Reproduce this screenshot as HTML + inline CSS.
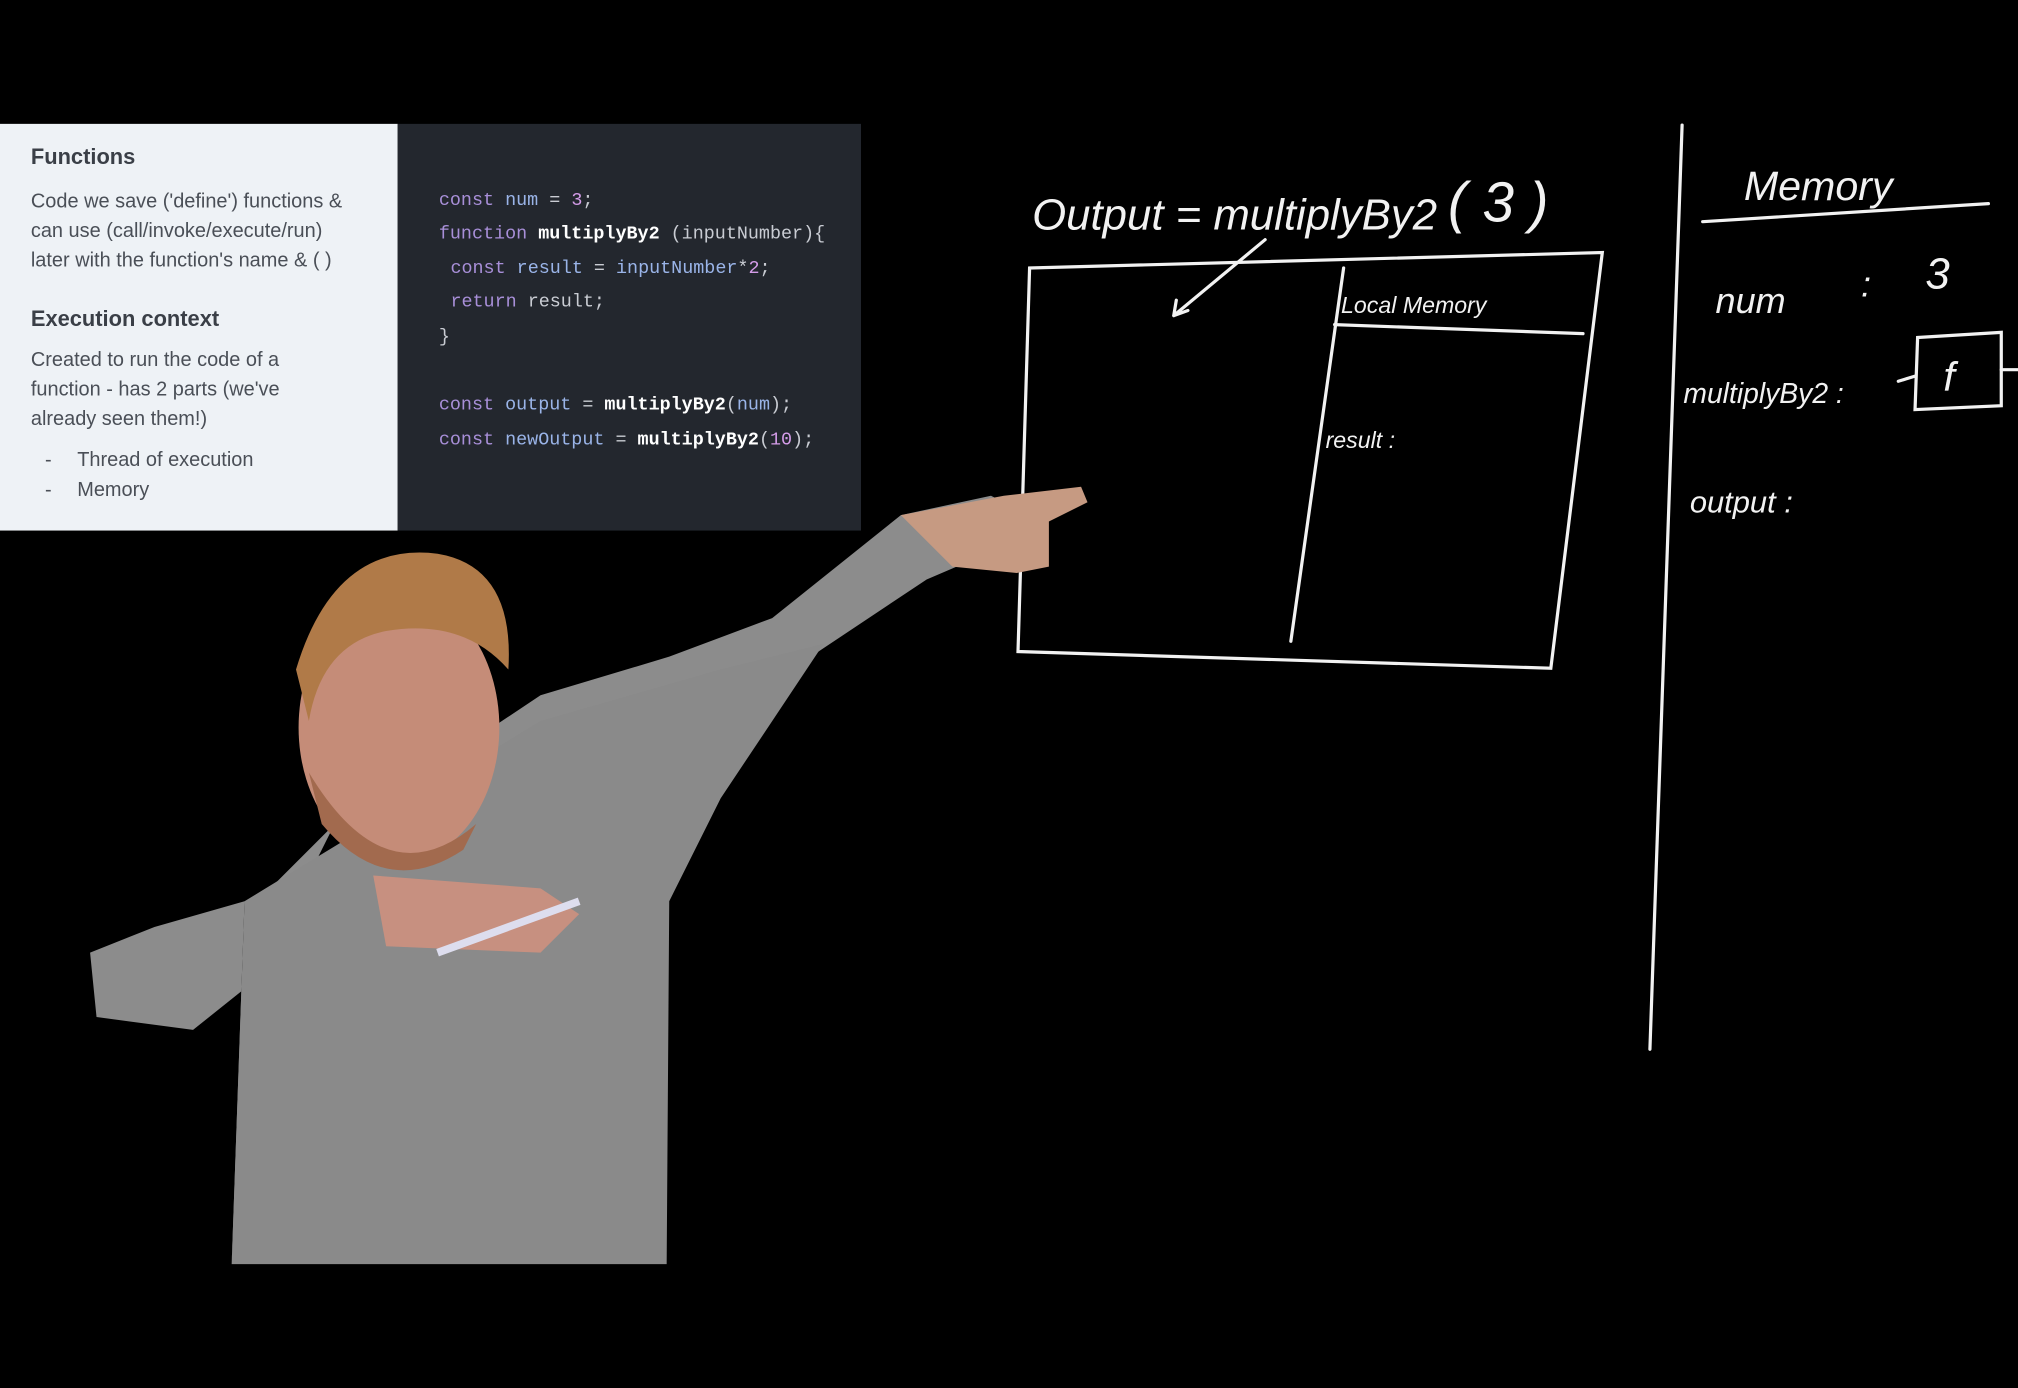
<!DOCTYPE html>
<html><head><meta charset="utf-8"><style>
html,body{margin:0;padding:0;background:#000;}
svg{display:block}
</style></head><body>
<svg width="2018" height="1388" viewBox="0 0 1568 1078" xmlns="http://www.w3.org/2000/svg">
<rect width="1568" height="1078" fill="#000"/>
<!-- slide -->
<rect x="0" y="96" width="309" height="316" fill="#eef2f6"/>
<rect x="309" y="96" width="360" height="316" fill="#23272e"/>
<g font-family="Liberation Sans, sans-serif" fill="#4a4f57">
<text x="24" y="127" font-size="17" font-weight="bold" fill="#3a3f47">Functions</text>
<text x="24" y="161" font-size="15.5">Code we save ('define') functions &amp;</text>
<text x="24" y="184" font-size="15.5">can use (call/invoke/execute/run)</text>
<text x="24" y="207" font-size="15.5">later with the function's name &amp; ( )</text>
<text x="24" y="253" font-size="17" font-weight="bold" fill="#3a3f47">Execution context</text>
<text x="24" y="284" font-size="15.5">Created to run the code of a</text>
<text x="24" y="307" font-size="15.5">function - has 2 parts (we've</text>
<text x="24" y="330" font-size="15.5">already seen them!)</text>
<text x="35" y="362" font-size="15.5">-</text><text x="60" y="362" font-size="15.5">Thread of execution</text>
<text x="35" y="385" font-size="15.5">-</text><text x="60" y="385" font-size="15.5">Memory</text>
</g>
<g font-family="Liberation Mono, monospace" font-size="14.3" fill="#c9ccd3">
<text x="341" y="159"><tspan fill="#a88fd8">const</tspan> <tspan fill="#9ab4e8">num</tspan> = <tspan fill="#d49ce8">3</tspan>;</text>
<text x="341" y="185"><tspan fill="#a88fd8">function</tspan> <tspan fill="#fff" font-weight="bold">multiplyBy2</tspan> (inputNumber){</text>
<text x="350" y="212"><tspan fill="#a88fd8">const</tspan> <tspan fill="#9ab4e8">result</tspan> = <tspan fill="#9ab4e8">inputNumber</tspan>*<tspan fill="#d49ce8">2</tspan>;</text>
<text x="350" y="238"><tspan fill="#a88fd8">return</tspan> result;</text>
<text x="341" y="265">}</text>
<text x="341" y="318"><tspan fill="#a88fd8">const</tspan> <tspan fill="#9ab4e8">output</tspan> = <tspan fill="#fff" font-weight="bold">multiplyBy2</tspan>(<tspan fill="#9ab4e8">num</tspan>);</text>
<text x="341" y="345"><tspan fill="#a88fd8">const</tspan> <tspan fill="#9ab4e8">newOutput</tspan> = <tspan fill="#fff" font-weight="bold">multiplyBy2</tspan>(<tspan fill="#d49ce8">10</tspan>);</text>
</g>
<!-- whiteboard lines -->
<g stroke="#f2f2f2" stroke-width="2.5" fill="none" stroke-linecap="round">
<path d="M800 208 L1245 196 L1205 519 L791 506 Z"/>
<path d="M1044 208 L1003 498"/>
<path d="M1037 252 L1230 259"/>
<path d="M983 186 L912 245 M912 245 L914 233 M912 245 L923 241"/>
<path d="M1307 97 L1282 815"/>
<path d="M1323 172 L1545 158"/>
<path d="M1490 262 L1555 258 L1555 315 L1488 318 Z"/>
<path d="M1475 296 L1488 292 M1555 287 L1568 287"/>
</g>
<g font-family="Liberation Sans, sans-serif" font-style="italic" fill="#f2f2f2">
<text x="802" y="178" font-size="34">Output  =  multiplyBy2</text>
<text x="1125" y="172" font-size="44">( 3 )</text>
<text x="1355" y="155" font-size="32">Memory</text>
<text x="1042" y="243" font-size="18">Local Memory</text>
<text x="1030" y="348" font-size="18">result   :</text>
<text x="1333" y="243" font-size="28">num</text>
<text x="1446" y="230" font-size="28">:</text>
<text x="1496" y="224" font-size="34">3</text>
<text x="1308" y="313" font-size="22">multiplyBy2  :</text>
<text x="1510" y="303" font-size="32">f</text>
<text x="1313" y="398" font-size="24">output  :</text>
</g>
<!-- person (rough) -->
<g>
<path d="M180 982 L190 700 L120 720 L70 740 L75 790 L150 800 L200 760 L230 700 L260 640 L330 640 L420 600 L520 560 L600 530 L720 450 L790 420 L800 400 L770 385 L700 400 L600 480 L520 510 L420 540 L330 600 L260 640 L200 700 L190 760 L180 982 Z" fill="#8c8c8c"/>
<path d="M190 700 L420 560 L560 520 L640 500 L560 620 L520 700 L518 982 L180 982 Z" fill="#8a8a8a"/>
<path d="M700 400 L780 385 L840 378 L845 390 L815 405 L815 440 L790 445 L740 440 Z" fill="#c69a82"/>
<ellipse cx="310" cy="565" rx="78" ry="105" fill="#c58c78"/>
<path d="M230 520 Q260 420 340 430 Q400 440 395 520 Q360 480 300 490 Q250 500 240 560 Z" fill="#b07a48"/>
<path d="M240 600 Q300 700 370 640 L360 660 Q300 700 250 640 Z" fill="#a26a4e"/>
<path d="M290 680 L420 690 L450 710 L420 740 L300 735 Z" fill="#c79080"/>
<path d="M340 740 L450 700" stroke="#dde" stroke-width="6"/>
</g>
</svg>
</body></html>
